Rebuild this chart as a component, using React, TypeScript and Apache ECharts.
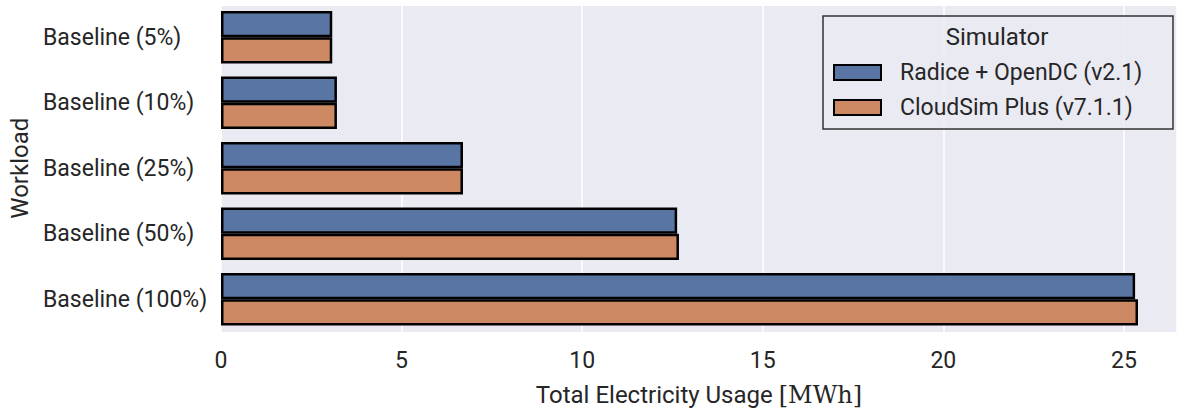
import React, { useEffect, useRef } from "react";
import * as echarts from "echarts";

// Workload categories (top to bottom)
const workloads = [
  "Baseline (5%)",
  "Baseline (10%)",
  "Baseline (25%)",
  "Baseline (50%)",
  "Baseline (100%)",
];

// Total electricity usage per simulator, in MWh
const radiceOpenDC = [3.08, 3.21, 6.7, 12.63, 25.31];
const cloudSimPlus = [3.08, 3.21, 6.7, 12.68, 25.39];

const seriesNames = ["Radice + OpenDC (v2.1)", "CloudSim Plus (v7.1.1)"];
const xTicks = [0, 5, 10, 15, 20, 25];

const FONT = "Roboto";
const TEXT = "#262626";
const PLOT_LEFT = 221;
const LABEL_LEFT = 43;

export default function App() {
  const ref = useRef<HTMLDivElement>(null);

  useEffect(() => {
    if (!ref.current) return;
    const chart = echarts.init(ref.current, undefined, { renderer: "svg" });

    const barStyle = (color: string) => ({
      color,
      borderColor: "#000",
      borderWidth: 2.5,
    });

    chart.setOption({
      animation: false,
      backgroundColor: "#ffffff",
      textStyle: { fontFamily: FONT, color: TEXT },
      grid: {
        left: PLOT_LEFT,
        right: 0,
        top: 4.5,
        bottom: 78,
        show: true,
        backgroundColor: "#eaeaf2",
        borderWidth: 0,
      },
      xAxis: {
        type: "value",
        min: xTicks[0],
        max: 26.47,
        interval: 5,
        axisLine: { show: false },
        axisTick: { show: false },
        splitLine: { show: true, lineStyle: { color: "#ffffff", width: 1.5 } },
        axisLabel: {
          fontSize: 23,
          color: TEXT,
          fontFamily: FONT,
          margin: 17,
          showMaxLabel: false,
          formatter: (v: number) => (xTicks.includes(v) ? String(v) : ""),
        },
        name: "{a|Total Electricity Usage }{b|[MWh]}",
        nameLocation: "middle",
        nameGap: 51,
        nameTextStyle: {
          rich: {
            a: { fontSize: 24, fontFamily: FONT, color: TEXT },
            b: { fontSize: 24, fontFamily: "DejaVu Serif", color: TEXT },
          },
        },
      },
      yAxis: {
        type: "category",
        data: workloads,
        inverse: true,
        axisLine: { show: false },
        axisTick: { show: false },
        splitLine: { show: false },
        axisLabel: {
          fontSize: 23,
          color: TEXT,
          fontFamily: FONT,
          align: "left",
          margin: PLOT_LEFT - LABEL_LEFT,
        },
        name: "Workload",
        nameLocation: "middle",
        nameGap: 183,
        nameTextStyle: { fontSize: 24, color: TEXT, fontFamily: FONT },
      },
      legend: {
        orient: "vertical",
        left: 828,
        top: 56,
        itemWidth: 47,
        itemHeight: 15,
        itemGap: 12,
        icon: "rect",
        z: 6,
        data: seriesNames,
        textStyle: {
          fontSize: 23,
          color: TEXT,
          fontFamily: FONT,
          padding: [0, 0, 0, 14],
        },
      },
      graphic: [
        {
          // plot area is trimmed at the top edge of the figure
          type: "rect",
          z: 1,
          shape: { x: PLOT_LEFT, y: 0, width: 1177 - PLOT_LEFT, height: 6 },
          style: { fill: "#ffffff" },
        },
        {
          type: "rect",
          z: 3,
          shape: { x: 823, y: 16, width: 350, height: 113 },
          style: {
            fill: "rgba(234,234,242,0.8)",
            stroke: "#333333",
            lineWidth: 1.5,
          },
        },
        {
          type: "text",
          z: 4,
          x: 997,
          y: 37,
          style: {
            text: "Simulator",
            fontSize: 24,
            fontFamily: FONT,
            fill: TEXT,
            align: "center",
            verticalAlign: "middle",
          },
        },
      ],
      series: [
        {
          name: seriesNames[0],
          type: "bar",
          data: radiceOpenDC,
          barCategoryGap: "20%",
          barGap: "0%",
          itemStyle: barStyle("#5975a4"),
        },
        {
          name: seriesNames[1],
          type: "bar",
          data: cloudSimPlus,
          barCategoryGap: "20%",
          barGap: "0%",
          itemStyle: barStyle("#cc8963"),
        },
      ],
    });

    return () => chart.dispose();
  }, []);

  return (
    <div
      ref={ref}
      style={{ position: "absolute", left: 0, top: 0, width: 1177, height: 412 }}
    />
  );
}
